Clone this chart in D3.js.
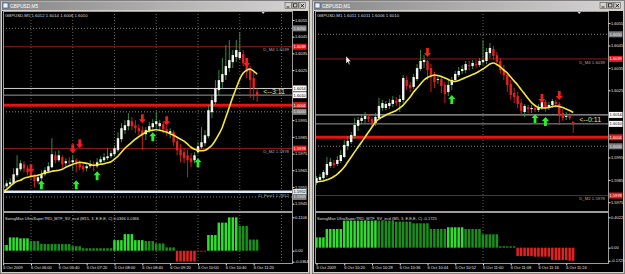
<!DOCTYPE html>
<html>
<head>
<meta charset="utf-8">
<script src="https://cdn.jsdelivr.net/npm/d3@7"></script>
<style>
  body { margin: 0; background: #d4d0c8; }
  svg { display: block; }
  text { font-family: "Liberation Sans", Arial, sans-serif; }
</style>
</head>
<body>
<svg id="screen" width="625" height="274"></svg>
<script>
// ---------- left window: GBPUSD M5 ----------
const leftStart = "05:20";
const leftOpen = [1.59542,1.59554,1.59566,1.59572,1.59620,1.59656,1.59686,1.59662,1.59638,1.59614,
  1.59584,1.59602,1.59626,1.59644,1.59668,1.59740,1.59710,1.59728,1.59692,1.59704,
  1.59698,1.59710,1.59698,1.59674,1.59662,1.59674,1.59686,1.59674,1.59698,1.59710,
  1.59722,1.59734,1.59746,1.59770,1.59836,1.59890,1.59914,1.59944,1.59920,1.59902,
  1.59890,1.59866,1.59884,1.59908,1.59926,1.59914,1.59926,1.59896,1.59872,1.59878,
  1.59824,1.59776,1.59758,1.59740,1.59722,1.59710,1.59758,1.59788,1.59812,1.59854,
  1.59998,1.60058,1.60130,1.60178,1.60220,1.60262,1.60298,1.60328,1.60322,1.60346,
  1.60298,1.60250,1.60202,1.60120];
const leftHigh = [1.59572,1.59590,1.59602,1.59662,1.59740,1.59710,1.59704,1.59680,1.59650,1.59626,
  1.59626,1.59650,1.59668,1.59698,1.59842,1.59764,1.59770,1.59740,1.59722,1.59728,
  1.59740,1.59722,1.59710,1.59692,1.59692,1.59710,1.59704,1.59722,1.59734,1.59752,
  1.59782,1.59770,1.59800,1.59878,1.59932,1.59950,1.59992,1.59968,1.59950,1.59926,
  1.59914,1.59908,1.59938,1.59956,1.59998,1.59950,1.59944,1.59920,1.59902,1.59890,
  1.59842,1.59806,1.59782,1.59770,1.59752,1.59758,1.59818,1.59908,1.59890,1.60040,
  1.60100,1.60190,1.60250,1.60322,1.60400,1.60430,1.60370,1.60430,1.60478,1.60370,
  1.60322,1.60274,1.60238,1.60140];
const leftLow = [1.59530,1.59542,1.59554,1.59566,1.59608,1.59644,1.59638,1.59620,1.59590,1.59548,
  1.59572,1.59590,1.59614,1.59632,1.59662,1.59692,1.59698,1.59662,1.59674,1.59674,
  1.59650,1.59638,1.59650,1.59638,1.59644,1.59662,1.59644,1.59662,1.59686,1.59698,
  1.59710,1.59722,1.59734,1.59758,1.59818,1.59866,1.59890,1.59890,1.59872,1.59860,
  1.59770,1.59830,1.59872,1.59884,1.59902,1.59884,1.59872,1.59854,1.59842,1.59794,
  1.59740,1.59698,1.59692,1.59608,1.59668,1.59692,1.59746,1.59776,1.59794,1.59842,
  1.59962,1.60040,1.60100,1.60142,1.60190,1.60238,1.60262,1.60298,1.60310,1.60274,
  1.60202,1.60082,1.60070,1.60060];
const leftClose = [1.59560,1.59572,1.59578,1.59626,1.59662,1.59692,1.59662,1.59638,1.59608,1.59584,
  1.59608,1.59626,1.59650,1.59674,1.59746,1.59710,1.59740,1.59686,1.59704,1.59698,
  1.59710,1.59698,1.59668,1.59656,1.59674,1.59686,1.59674,1.59698,1.59716,1.59728,
  1.59734,1.59752,1.59782,1.59842,1.59902,1.59920,1.59950,1.59914,1.59902,1.59884,
  1.59860,1.59890,1.59914,1.59932,1.59944,1.59932,1.59896,1.59872,1.59884,1.59818,
  1.59770,1.59740,1.59722,1.59710,1.59698,1.59740,1.59794,1.59818,1.59860,1.60010,
  1.60070,1.60142,1.60190,1.60226,1.60274,1.60310,1.60340,1.60370,1.60358,1.60292,
  1.60238,1.60190,1.60142,1.60100];
const leftMA = [1.59524,1.59536,1.59554,1.59572,1.59584,1.59590,1.59602,1.59608,1.59614,1.59617,
  1.59620,1.59626,1.59635,1.59638,1.59644,1.59647,1.59650,1.59656,1.59668,1.59677,
  1.59686,1.59692,1.59698,1.59695,1.59692,1.59686,1.59680,1.59683,1.59686,1.59689,
  1.59695,1.59701,1.59716,1.59734,1.59758,1.59782,1.59800,1.59818,1.59836,1.59851,
  1.59866,1.59878,1.59887,1.59890,1.59893,1.59890,1.59884,1.59878,1.59869,1.59860,
  1.59848,1.59836,1.59824,1.59806,1.59788,1.59776,1.59770,1.59767,1.59770,1.59782,
  1.59800,1.59830,1.59866,1.59908,1.59968,1.60028,1.60088,1.60142,1.60196,1.60232,
  1.60250,1.60256,1.60244,1.60226];
const leftSellBars = [8, 20, 22, 40, 47, 70];
const leftSellPrices = [1.59632, 1.59752, 1.59782, 1.59932, 1.59920, 1.60268];
const leftBuyBars = [11, 21, 27, 43, 56];
const leftBuyPrices = [1.59590, 1.59590, 1.59644, 1.59878, 1.59722];
// M15 histogram, one value per 15-minute block
const leftHistVals = [0.019,0.044,0.041,0.032,0.022,0.022,0.022,0.015,0.008,0.008,0.008,0.035,0.055,
  0.035,0.032,0.024,0.011,-0.036,-0.036,-0.002,0.052,0.093,0.1106,0.082,0.037];
const leftHistState = ["up","up","up","dn","dn","dn","dn","dn","dn","dn","dn","up","up",
  "up","dn","dn","dn","neg","neg","neg","up","up","up","dn","dn"];
const leftLevelPrices = [1.6050, 1.6039, 1.6014, 1.6010, 1.6004, 1.6000, 1.5978, 1.5952, 1.5949];
const leftLevelKinds = ["grid", "dm", "ask", "bid", "pivot", "grid", "dm", "fast", "grid"];
const leftLevelNames = ["", "D_M4 1.6039", "", "", "", "", "D_M2 1.5978", "D_Fast1 1.5952", ""];
const leftPriceTicks = [1.6055,1.6045,1.6035,1.6025,1.5995,1.5985,1.5975,1.5965,1.5955,1.5945];
const leftTimeTicks = ["05:20","06:00","06:40","07:20","08:00","08:40","09:20","10:00","10:40","11:20"];
const leftTimeLabels = ["6 Oct 2009","6 Oct 06:00","6 Oct 06:40","6 Oct 07:20","6 Oct 08:00",
  "6 Oct 08:40","6 Oct 09:20","6 Oct 10:00","6 Oct 10:40","6 Oct 11:20"];
const leftGridTimes = ["06:00","07:00","08:00","09:00","10:00","11:00","12:00"];

// ---------- right window: GBPUSD M1 ----------
const rightStart = "10:12";
const rightOpen = [1.59836,1.59850,1.59858,1.59872,1.59912,1.59925,1.59921,1.59934,1.59952,1.60001,
  1.60019,1.60046,1.60091,1.60113,1.60122,1.60131,1.60122,1.60104,1.60126,1.60171,
  1.60171,1.60180,1.60189,1.60202,1.60198,1.60207,1.60296,1.60274,1.60265,1.60300,
  1.60345,1.60376,1.60381,1.60349,1.60318,1.60296,1.60300,1.60274,1.60242,1.60274,
  1.60296,1.60318,1.60336,1.60340,1.60363,1.60358,1.60367,1.60363,1.60376,1.60381,
  1.60416,1.60434,1.60407,1.60381,1.60345,1.60318,1.60278,1.60238,1.60224,1.60193,
  1.60153,1.60175,1.60166,1.60171,1.60162,1.60171,1.60198,1.60175,1.60184,1.60198,
  1.60189,1.60149,1.60131,1.60135,1.60110];
const rightHigh = [1.59867,1.59876,1.59894,1.59952,1.59948,1.59939,1.59957,1.59983,1.60028,1.60046,
  1.60064,1.60126,1.60131,1.60140,1.60153,1.60144,1.60131,1.60149,1.60216,1.60207,
  1.60202,1.60211,1.60224,1.60220,1.60229,1.60318,1.60314,1.60287,1.60323,1.60367,
  1.60430,1.60407,1.60385,1.60367,1.60332,1.60318,1.60314,1.60287,1.60296,1.60309,
  1.60336,1.60354,1.60363,1.60381,1.60381,1.60385,1.60385,1.60394,1.60474,1.60439,
  1.60461,1.60448,1.60421,1.60394,1.60363,1.60332,1.60296,1.60260,1.60242,1.60211,
  1.60189,1.60184,1.60184,1.60184,1.60189,1.60216,1.60207,1.60198,1.60211,1.60207,
  1.60198,1.60166,1.60153,1.60149,1.60110];
const rightLow = [1.59827,1.59841,1.59850,1.59863,1.59903,1.59903,1.59912,1.59925,1.59948,1.59983,
  1.60010,1.60033,1.60068,1.60099,1.60104,1.60108,1.60082,1.60091,1.60117,1.60158,
  1.60162,1.60166,1.60175,1.60180,1.60153,1.60193,1.60251,1.60242,1.60256,1.60291,
  1.60336,1.60349,1.60296,1.60242,1.60260,1.60278,1.60238,1.60193,1.60224,1.60251,
  1.60287,1.60309,1.60323,1.60327,1.60340,1.60345,1.60349,1.60354,1.60363,1.60367,
  1.60394,1.60385,1.60358,1.60323,1.60296,1.60242,1.60207,1.60193,1.60171,1.60135,
  1.60131,1.60149,1.60149,1.60153,1.60153,1.60162,1.60153,1.60162,1.60171,1.60171,
  1.60095,1.60113,1.60117,1.60117,1.60060];
const rightClose = [1.59858,1.59863,1.59885,1.59921,1.59930,1.59916,1.59939,1.59961,1.60006,1.60024,
  1.60050,1.60095,1.60117,1.60126,1.60135,1.60122,1.60099,1.60131,1.60180,1.60193,
  1.60189,1.60193,1.60207,1.60193,1.60211,1.60305,1.60269,1.60260,1.60309,1.60349,
  1.60381,1.60385,1.60340,1.60309,1.60287,1.60300,1.60269,1.60233,1.60274,1.60296,
  1.60323,1.60336,1.60345,1.60367,1.60358,1.60372,1.60363,1.60381,1.60385,1.60421,
  1.60439,1.60403,1.60376,1.60340,1.60318,1.60274,1.60229,1.60220,1.60189,1.60158,
  1.60180,1.60166,1.60171,1.60162,1.60175,1.60202,1.60171,1.60184,1.60202,1.60189,
  1.60140,1.60126,1.60135,1.60126,1.60100];
const rightMA = [1.59841,1.59843,1.59845,1.59850,1.59856,1.59865,1.59876,1.59890,1.59907,1.59930,
  1.59952,1.59975,1.59997,1.60019,1.60041,1.60064,1.60086,1.60108,1.60122,1.60131,
  1.60140,1.60146,1.60153,1.60160,1.60171,1.60184,1.60202,1.60220,1.60242,1.60260,
  1.60278,1.60296,1.60307,1.60314,1.60318,1.60316,1.60312,1.60305,1.60298,1.60291,
  1.60289,1.60294,1.60300,1.60307,1.60314,1.60320,1.60327,1.60336,1.60345,1.60356,
  1.60367,1.60372,1.60365,1.60354,1.60340,1.60327,1.60309,1.60291,1.60274,1.60253,
  1.60233,1.60213,1.60195,1.60182,1.60173,1.60171,1.60171,1.60173,1.60178,1.60180,
  1.60178,1.60173,1.60166,1.60160,1.60151];
const rightSellBars = [32, 65, 70];
const rightSellPrices = [1.60399, 1.60193, 1.60207];
const rightBuyBars = [39, 63, 66];
const rightBuyPrices = [1.60229, 1.60144, 1.60131];
// M5 histogram, one value per 5-minute block
const rightHistVals = [0.137,0.248,0.358,0.358,0.358,0.345,0.323,0.248,0.270,0.248,0.177,0.018,
  -0.111,-0.119,-0.164,-0.1725];
const rightHistState = ["up","up","up","up","dn","dn","dn","dn","up","dn","dn","dn",
  "neg","neg","neg","neg"];
const rightLevelPrices = [1.6050, 1.6039, 1.6014, 1.6010, 1.6004, 1.6000, 1.5978];
const rightLevelKinds = ["grid", "dm", "ask", "bid", "pivot", "grid", "dm"];
const rightLevelNames = ["", "D_M4 1.6039", "", "", "", "", "D_M2 1.5978"];
const rightPriceTicks = [1.6055,1.6045,1.6035,1.6025,1.5995,1.5985,1.5975];
const rightTimeTicks = ["10:12","10:20","10:28","10:36","10:44","10:52","11:00","11:08","11:16","11:24"];
const rightTimeLabels = ["6 Oct 2009","6 Oct 10:20","6 Oct 10:28","6 Oct 10:36","6 Oct 10:44",
  "6 Oct 10:52","6 Oct 11:00","6 Oct 11:08","6 Oct 11:16","6 Oct 11:24"];
const rightGridTimes = ["11:00"];

const svg = d3.select("#screen");
const defs = svg.append("defs");
const tbar = defs.append("linearGradient").attr("id", "tbar");
tbar.append("stop").attr("offset", "0%").attr("stop-color", "#868686");
tbar.append("stop").attr("offset", "100%").attr("stop-color", "#d6d6d6");
svg.append("rect").attr("width", 625).attr("height", 274).attr("fill", "#d4d0c8");

const toMin = s => { const p = s.split(":"); return +p[0] * 60 + +p[1]; };

const levelStyle = {
  grid:  { stroke: "#808080", width: 1, dash: "1,2", box: "#7c7c7c", txt: "#e8e8e8" },
  dm:    { stroke: "#8e1a1a", width: 1, dash: null, box: "#e01c1c", txt: "#ffffff" },
  ask:   { stroke: "#cfcfcf", width: 1, dash: null, box: "#ffffff", txt: "#000000" },
  bid:   { stroke: "#9a9a9a", width: 1, dash: null, box: "#ffffff", txt: "#000000" },
  pivot: { stroke: "#e21414", width: 3, dash: null, box: "#e01c1c", txt: "#ffffff" },
  fast:  { stroke: "#d6ecfa", width: 2, dash: null, box: "#d6ecfa", txt: "#000000" }
};
const histColor = { up: "#2ee02e", dn: "#1b8f1b", neg: "#e02222" };

function arrowPath(down) {
  // tip at (0,0)
  const s = down ? -1 : 1;
  return `M0,0 L-3.5,${4 * s} L-1.4,${4 * s} L-1.4,${9 * s} L1.4,${9 * s} L1.4,${4 * s} L3.5,${4 * s} Z`;
}

function drawChart(c) {
  const b = c.box;
  const t0 = toMin(c.start);
  const times = c.close.map((d, i) => t0 + i * c.period);
  const x = d3.scaleLinear().domain(c.xDomain.map(toMin)).range(c.xRange);
  const y = d3.scaleLinear().domain(c.yDomain).range([b.mainBot, b.mainTop]);
  const yh = d3.scaleLinear().domain(c.histDomain).range(c.histRange);

  const g = svg.append("g");

  // window chrome
  g.append("rect").attr("x", b.x0 + 0.5).attr("y", 0.5).attr("width", b.w - 1).attr("height", 273)
    .attr("fill", "#d4d0c8").attr("stroke", "#808080");
  g.append("rect").attr("x", b.x0 + 2).attr("y", 1.5).attr("width", b.w - 4).attr("height", 8.5)
    .attr("fill", "url(#tbar)");
  g.append("rect").attr("x", b.x0 + 3).attr("y", 3).attr("width", 5).attr("height", 5)
    .attr("fill", "#eef2f8").attr("stroke", "#2a5caa").attr("stroke-width", 0.7);
  g.append("text").attr("x", b.x0 + 10).attr("y", 7.7).attr("font-size", 4.8).attr("fill", "#ffffff")
    .text(c.title);
  [0, 1, 2].forEach(k => {
    const bx = b.x0 + b.w - 25 + k * 7;
    g.append("rect").attr("x", bx).attr("y", 2.5).attr("width", 6.5).attr("height", 6)
      .attr("fill", "#d4d0c8").attr("stroke", "#404040").attr("stroke-width", 0.5);
    if (k === 0) g.append("line").attr("x1", bx + 1.5).attr("x2", bx + 4.5).attr("y1", 7).attr("y2", 7)
      .attr("stroke", "#000").attr("stroke-width", 0.8);
    if (k === 1) g.append("rect").attr("x", bx + 1.5).attr("y", 3.8).attr("width", 3.5).attr("height", 3.2)
      .attr("fill", "none").attr("stroke", "#000").attr("stroke-width", 0.7);
    if (k === 2) g.append("path").attr("d", `M${bx + 1.5},4 L${bx + 5},7.3 M${bx + 5},4 L${bx + 1.5},7.3`)
      .attr("stroke", "#000").attr("stroke-width", 0.8);
  });

  // chart background
  g.append("rect").attr("x", b.x0 + 2).attr("y", 11).attr("width", b.w - 4).attr("height", 261)
    .attr("fill", "#000");

  const clipId = "clip" + c.id;
  defs.append("clipPath").attr("id", clipId).append("rect")
    .attr("x", b.plotL).attr("y", b.mainTop).attr("width", b.plotR - b.plotL).attr("height", b.mainBot - b.mainTop);
  const hclipId = "hclip" + c.id;
  defs.append("clipPath").attr("id", hclipId).append("rect")
    .attr("x", b.plotL).attr("y", b.indTop).attr("width", b.plotR - b.plotL).attr("height", b.indBot - b.indTop);

  // vertical grid (hourly)
  c.gridTimes.map(toMin).filter(t => x(t) < b.plotR).forEach(t => {
    g.append("line").attr("x1", x(t)).attr("x2", x(t)).attr("y1", b.mainTop).attr("y2", b.indBot)
      .attr("stroke", "#7a7a7a").attr("stroke-width", 0.8).attr("stroke-dasharray", "1,2");
  });

  const main = g.append("g").attr("clip-path", `url(#${clipId})`);

  // horizontal objects
  c.levelPrices.forEach((p, i) => {
    const st = levelStyle[c.levelKinds[i]];
    main.append("line").attr("x1", b.plotL).attr("x2", b.plotR).attr("y1", y(p)).attr("y2", y(p))
      .attr("stroke", st.stroke).attr("stroke-width", st.width).attr("stroke-dasharray", st.dash);
    if (c.levelKinds[i] === "fast") {
      main.append("line").attr("x1", b.plotL).attr("x2", b.plotR).attr("y1", y(p) - 1.2).attr("y2", y(p) - 1.2)
        .attr("stroke", "#ffffff").attr("stroke-width", 0.6);
    }
    if (c.levelNames[i]) {
      main.append("text").attr("x", b.plotR - 3).attr("y", y(p) + 4.6).attr("text-anchor", "end")
        .attr("font-size", 4.3).attr("fill", "#a8a8a8").text(c.levelNames[i]);
    }
  });

  // candles
  const candles = main.selectAll("g.candle").data(times).join("g");
  candles.append("line")
    .attr("x1", (t) => x(t)).attr("x2", (t) => x(t))
    .attr("y1", (t, i) => y(c.high[i])).attr("y2", (t, i) => y(c.low[i]))
    .attr("stroke", (t, i) => c.close[i] >= c.open[i] ? "#3f9a3f" : "#e42020").attr("stroke-width", 0.9);
  candles.append("rect")
    .attr("x", (t) => x(t) - 1.2).attr("width", 2.4)
    .attr("y", (t, i) => y(Math.max(c.open[i], c.close[i])))
    .attr("height", (t, i) => Math.max(0.8, Math.abs(y(c.open[i]) - y(c.close[i]))))
    .attr("fill", (t, i) => c.close[i] >= c.open[i] ? "#f4f4f4" : "#e42020");

  // moving average
  main.append("path").datum(c.ma)
    .attr("d", d3.line().x((d, i) => x(times[i])).y(d => y(d)).curve(d3.curveMonotoneX))
    .attr("fill", "none").attr("stroke", "#f6e83a").attr("stroke-width", 1.6);

  // signal arrows
  c.sellBars.forEach((bi, k) => {
    main.append("path").attr("d", arrowPath(true))
      .attr("transform", `translate(${x(times[bi])},${y(c.sellPrices[k])})`).attr("fill", "#f01e1e");
  });
  c.buyBars.forEach((bi, k) => {
    main.append("path").attr("d", arrowPath(false))
      .attr("transform", `translate(${x(times[bi])},${y(c.buyPrices[k])})`).attr("fill", "#2af02a");
  });

  // timer text and chart shift marker
  const last = times[times.length - 1];
  g.append("text").attr("x", x(last) + 6).attr("y", y(c.timerPrice)).attr("dy", "0.36em")
    .attr("font-size", 7).attr("fill", "#ece27a").text(c.timerText);
  g.append("path").attr("d", `M${x(last) + 4},11.5 L${x(last) + 8},11.5 L${x(last) + 6},14 Z`).attr("fill", "#d8d8d8");

  // symbol text
  g.append("text").attr("x", b.plotL + 2).attr("y", 17).attr("font-size", 4.3).attr("fill", "#dcdcdc")
    .text(c.ohlcText);

  // indicator histogram
  const ind = g.append("g").attr("clip-path", `url(#${hclipId})`);
  const g0 = Math.floor(t0 / c.histPeriod);
  ind.selectAll("rect").data(times).join("rect")
    .attr("x", t => x(t) - 1.3).attr("width", 2.5)
    .attr("y", t => Math.min(yh(0), yh(c.histVals[Math.floor(t / c.histPeriod) - g0])))
    .attr("height", t => Math.max(0.8, Math.abs(yh(c.histVals[Math.floor(t / c.histPeriod) - g0]) - yh(0))))
    .attr("fill", t => histColor[c.histState[Math.floor(t / c.histPeriod) - g0]]);
  g.append("text").attr("x", b.plotL + 2).attr("y", 220).attr("font-size", 4).attr("fill", "#dcdcdc")
    .text(c.histTitle);

  // frames
  g.append("rect").attr("x", b.plotL + 0.5).attr("y", b.mainTop + 0.5).attr("width", b.plotR - b.plotL)
    .attr("height", b.mainBot - b.mainTop).attr("fill", "none").attr("stroke", "#9c9c9c").attr("stroke-width", 1);
  g.append("rect").attr("x", b.plotL + 0.5).attr("y", b.indTop + 0.5).attr("width", b.plotR - b.plotL)
    .attr("height", b.indBot - b.indTop).attr("fill", "none").attr("stroke", "#9c9c9c").attr("stroke-width", 1);

  // price axis
  const pa = g.append("g").attr("transform", `translate(${b.plotR + 0.5},0)`)
    .call(d3.axisRight(y).tickValues(c.priceTicks).tickFormat(d3.format(".4f")).tickSize(2).tickPadding(0.5))
    .attr("font-size", 4).attr("font-family", null).attr("color", "#e4e4e4");
  pa.select(".domain").remove();

  // boxes for objects on the price axis
  c.levelPrices.forEach((p, i) => {
    const st = levelStyle[c.levelKinds[i]];
    g.append("rect").attr("x", b.plotR + 1).attr("y", y(p) - 3).attr("width", 13.5).attr("height", 6)
      .attr("fill", st.box);
    g.append("text").attr("x", b.plotR + 1.6).attr("y", y(p)).attr("dy", "0.36em").attr("font-size", 4)
      .attr("fill", st.txt).text(d3.format(".4f")(p));
  });

  // indicator axis
  const ha = g.append("g").attr("transform", `translate(${b.plotR + 0.5},0)`)
    .call(d3.axisRight(yh).tickValues(c.histTicks).tickFormat((d, i) => c.histTickLabels[i]).tickSize(2).tickPadding(0.5))
    .attr("font-size", 4).attr("font-family", null).attr("color", "#e4e4e4");
  ha.select(".domain").remove();

  // time axis
  const ta = g.append("g").attr("transform", `translate(0,${b.indBot + 0.5})`)
    .call(d3.axisBottom(x).tickValues(c.timeTicks.map(toMin)).tickFormat((d, i) => c.timeLabels[i])
      .tickSize(2).tickPadding(1).tickSizeOuter(0))
    .attr("font-size", 4).attr("font-family", null).attr("color", "#e4e4e4");
  ta.select(".domain").remove();
  ta.selectAll("text").attr("text-anchor", "start").attr("dx", -0.5);
}

drawChart({
  id: "L", title: "GBPUSD,M5", ohlcText: "GBPUSD,M5  1.6012 1.6014 1.6006 1.6010",
  box: { x0: 0, w: 310, plotL: 3, plotR: 292, mainTop: 11, mainBot: 211, indTop: 212, indBot: 263 },
  start: leftStart, period: 5, open: leftOpen, high: leftHigh, low: leftLow, close: leftClose, ma: leftMA,
  xDomain: ["06:00", "12:00"], xRange: [31, 281.5], yDomain: [1.59406, 1.60604],
  sellBars: leftSellBars, sellPrices: leftSellPrices, buyBars: leftBuyBars, buyPrices: leftBuyPrices,
  histPeriod: 15, histVals: leftHistVals, histState: leftHistState,
  histDomain: [-0.0364, 0.1106], histRange: [261.7, 217.3],
  histTicks: [0.1106, 0, -0.0364], histTickLabels: ["0.1106", "0.00", "-0.0364"],
  histTitle: "SwingMan UltraSuperTRD_MTF_SV_ecd (M15, 3, E,E,E, C) 0.0366 0.0366",
  levelPrices: leftLevelPrices, levelKinds: leftLevelKinds, levelNames: leftLevelNames,
  priceTicks: leftPriceTicks, timeTicks: leftTimeTicks, timeLabels: leftTimeLabels, gridTimes: leftGridTimes,
  timerText: "<--3:11", timerPrice: 1.6012
});

drawChart({
  id: "R", title: "GBPUSD,M1", ohlcText: "GBPUSD,M1  1.6011 1.6011 1.6006 1.6010",
  box: { x0: 312, w: 313, plotL: 315, plotR: 608, mainTop: 11, mainBot: 211, indTop: 212, indBot: 263 },
  start: rightStart, period: 1, open: rightOpen, high: rightHigh, low: rightLow, close: rightClose, ma: rightMA,
  xDomain: ["10:12", "11:00"], xRange: [316.5, 483], yDomain: [1.59711, 1.60604],
  sellBars: rightSellBars, sellPrices: rightSellPrices, buyBars: rightBuyBars, buyPrices: rightBuyPrices,
  histPeriod: 5, histVals: rightHistVals, histState: rightHistState,
  histDomain: [-0.1725, 0.4022], histRange: [260.7, 217.3],
  histTicks: [0.4022, 0, -0.1725], histTickLabels: ["0.4022", "0.00", "-0.1725"],
  histTitle: "SwingMan UltraSuperTRD_MTF_SV_ecd (M5, 3, E,E,E, C) -0.1725",
  levelPrices: rightLevelPrices, levelKinds: rightLevelKinds, levelNames: rightLevelNames,
  priceTicks: rightPriceTicks, timeTicks: rightTimeTicks, timeLabels: rightTimeLabels, gridTimes: rightGridTimes,
  timerText: "<--0:11", timerPrice: 1.6012
});

// mouse pointer left on the M1 chart
svg.append("path").attr("d", "M346,56 L346,63.5 L347.7,62 L349,64.8 L350,64.3 L348.8,61.6 L351,61.4 Z")
  .attr("fill", "#ffffff").attr("stroke", "#000").attr("stroke-width", 0.4);
</script>
</body>
</html>
